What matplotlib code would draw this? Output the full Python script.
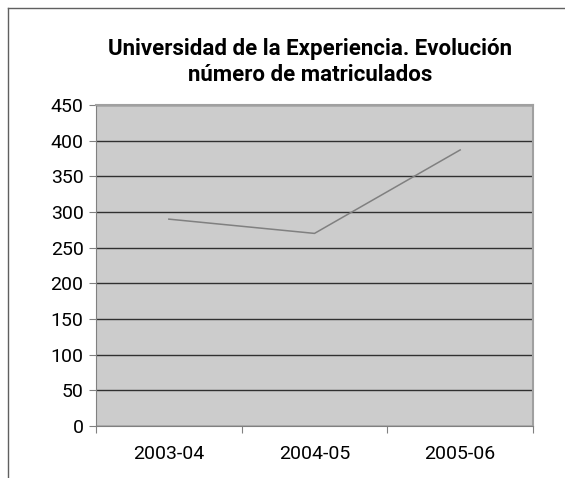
import matplotlib.pyplot as plt
from matplotlib.lines import Line2D

# data
cursos = ["2003-04", "2004-05", "2005-06"]
matriculados = [290, 270, 387]
y_ticks = [0, 50, 100, 150, 200, 250, 300, 350, 400, 450]

plt.rcParams['font.family'] = ['Roboto', 'DejaVu Sans']

W, H = 565, 478
fig = plt.figure(figsize=(W / 100, H / 100), dpi=100)
fig.patch.set_facecolor('white')

# plot area in pixels: x 96..533, y 105..426
ax = fig.add_axes([96 / W, 1 - 426 / H, (533 - 96) / W, (426 - 105) / H])
ax.set_facecolor('#cccccc')

x = [i + 0.5 for i in range(len(cursos))]
ax.plot(x, matriculados, color='#808080', linewidth=1.1, zorder=3)

ax.set_xlim(0, len(cursos))
ax.set_ylim(0, 450)
ax.set_yticks(y_ticks)
ax.set_yticklabels([str(v) for v in y_ticks], fontsize=14)
ax.set_xticks(range(len(cursos) + 1))
ax.set_xticklabels([])
ax.set_xticks(x, minor=True)
ax.set_xticklabels(cursos, minor=True, fontsize=14)
ax.tick_params(axis='x', which='minor', length=0, pad=14)
ax.tick_params(axis='x', which='major', length=5, color='#808080')
ax.tick_params(axis='y', length=5, color='#808080', pad=4)

ax.grid(axis='y', color='#303030', linewidth=1)
ax.set_axisbelow(True)
for side in ['top', 'right']:
    ax.spines[side].set_color('#a0a0a0')
    ax.spines[side].set_linewidth(1.5)
ax.spines['left'].set_color('#808080')
ax.spines['bottom'].set_color('#808080')

fig.text(310 / W, 1 - 62 / H,
         "Universidad de la Experiencia. Evolución\nnúmero de matriculados",
         ha='center', va='center', fontsize=16, fontweight='bold',
         linespacing=1.2)

# outer chart border (cropped)
fig.add_artist(Line2D([8 / W, 8 / W], [0, 1 - 8 / H], transform=fig.transFigure,
                      color='#606060', linewidth=1))
fig.add_artist(Line2D([8 / W, 1], [1 - 8 / H, 1 - 8 / H], transform=fig.transFigure,
                      color='#606060', linewidth=1))

fig.savefig('out.png', dpi=100)
